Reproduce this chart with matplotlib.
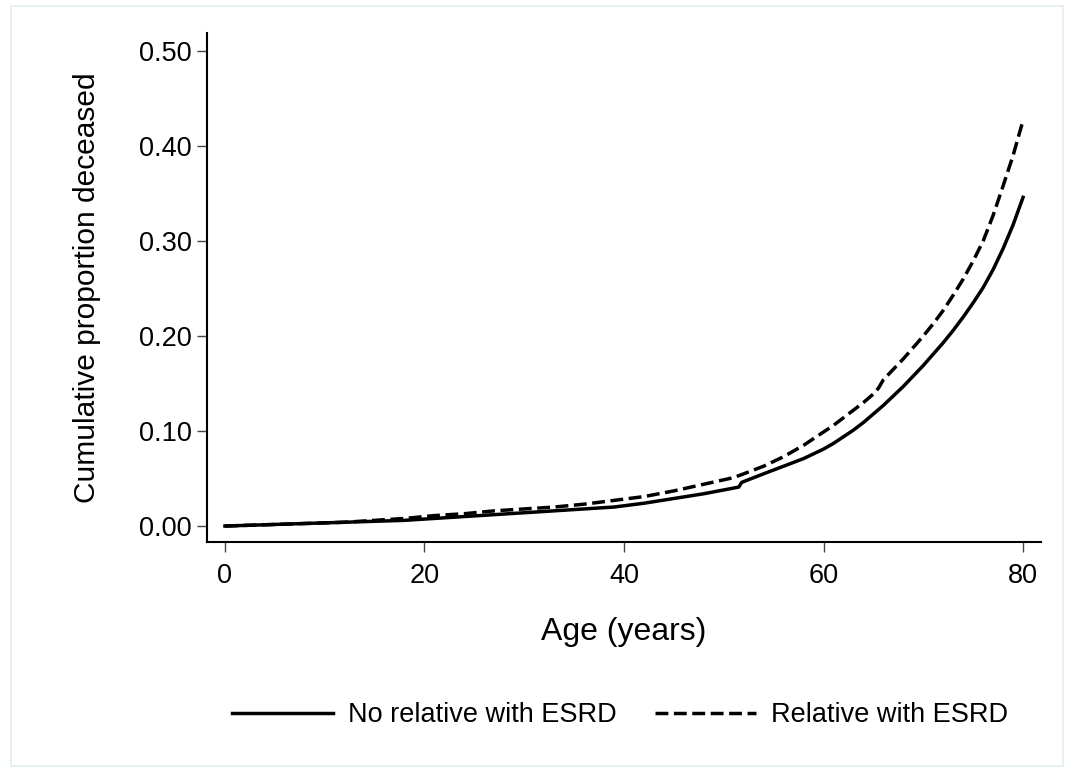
import matplotlib
matplotlib.use('Agg')
import matplotlib.pyplot as plt
from matplotlib.patches import Rectangle

plt.rcParams['font.family'] = ['Liberation Sans', 'DejaVu Sans']

# values (age in years, cumulative proportion deceased)
age_no_rel = [0, 3, 6, 9, 12, 15, 18, 21, 24, 27, 30, 33, 36, 39, 42, 45, 48,
              51.5, 51.8, 54, 56, 58, 60, 61, 62, 63, 64, 65, 66, 67, 68, 69,
              70, 71, 72, 73, 74, 75, 76, 77, 78, 79, 80]
prop_no_rel = [0.000, 0.001, 0.002, 0.003, 0.004, 0.005, 0.006, 0.008, 0.010,
               0.012, 0.014, 0.016, 0.018, 0.020, 0.024, 0.029, 0.034,
               0.041, 0.046, 0.055, 0.063, 0.071, 0.081, 0.087, 0.094, 0.101,
               0.109, 0.118, 0.127, 0.137, 0.147, 0.158, 0.169, 0.181, 0.193,
               0.206, 0.220, 0.235, 0.251, 0.270, 0.292, 0.317, 0.346]

age_rel = [0, 3, 6, 9, 12, 15, 18, 21, 24, 27, 30, 33, 36, 39, 42, 45, 48, 51,
           52, 54, 56, 58, 60, 61, 62, 63, 64, 65, 65.5, 66, 67, 68, 69, 70,
           71, 72, 73, 74, 75, 76, 77, 78, 79, 80]
prop_rel = [0.000, 0.001, 0.002, 0.003, 0.004, 0.006, 0.008, 0.011, 0.013,
            0.016, 0.018, 0.020, 0.023, 0.027, 0.031, 0.037, 0.044, 0.051,
            0.055, 0.063, 0.073, 0.085, 0.099, 0.106, 0.114, 0.122, 0.130,
            0.139, 0.145, 0.154, 0.165, 0.176, 0.188, 0.200, 0.213, 0.227,
            0.243, 0.260, 0.279, 0.300, 0.327, 0.358, 0.390, 0.427]

x_ticks = [0, 20, 40, 60, 80]
y_ticks = [0.0, 0.1, 0.2, 0.3, 0.4, 0.5]
labels = ['No relative with ESRD', 'Relative with ESRD']

W, H = 1068, 770
fig = plt.figure(figsize=(W / 100, H / 100), dpi=100)
fig.patches.append(Rectangle((11 / W, 4 / H), 1052 / W, 760 / H, transform=fig.transFigure,
                             fill=False, edgecolor='#e2eff0', linewidth=1.2))

ax = fig.add_axes([207 / W, 1 - 542 / H, (1041 - 207) / W, (542 - 33) / H])
l1, = ax.plot(age_no_rel, prop_no_rel, color='black', lw=2.5, ls='-')
l2, = ax.plot(age_rel, prop_rel, color='black', lw=2.5, ls='--')

ax.set_xlim(-1.8, 81.8)
ax.set_ylim(-0.0168, 0.519)
ax.set_xticks(x_ticks)
ax.set_yticks(y_ticks)
ax.set_yticklabels(['%.2f' % v for v in y_ticks])
for s in ['top', 'right']:
    ax.spines[s].set_visible(False)
for s in ['left', 'bottom']:
    ax.spines[s].set_linewidth(1.5)
ax.tick_params(axis='both', length=7, width=1, color='#444444', labelsize=19.5)
ax.tick_params(axis='y', pad=4)
ax.tick_params(axis='x', pad=8)

ax.set_ylabel('Cumulative proportion deceased', fontsize=21.5, labelpad=27)
ax.set_xlabel('Age (years)', fontsize=23, labelpad=20)

fig.legend([l1, l2], labels, loc='center', bbox_to_anchor=(620 / W, 1 - 715 / H),
           ncol=2, frameon=False, fontsize=19.5, handlelength=3.7,
           handletextpad=0.55, columnspacing=1.45)

fig.savefig('out.png', dpi=100)
